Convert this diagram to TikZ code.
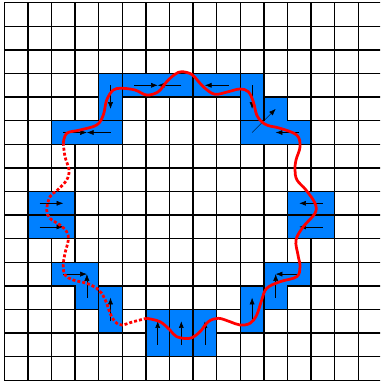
\documentclass[tikz,border=0pt]{standalone}
\usetikzlibrary{arrows.meta}
\definecolor{cellblue}{RGB}{0,128,255}
\begin{document}
\begin{tikzpicture}[x=1.2pt,y=-1.2pt,
 gridline/.style={line width=1.6pt,black},
 blockline/.style={draw=black,line width=1.6pt},
 flow/.style={line width=0.6pt,-{Latex[length=8pt,width=6pt]}},
 curve/.style={red,line width=3.3pt,line join=round},
 dotcurve/.style={red,line width=3.3pt,dash pattern=on 3.6pt off 2.4pt}]
\useasboundingbox (0,0) rectangle (380,381);
\clip (0,0) rectangle (380,381);
\fill[white] (0,0) rectangle (380,381);
\begin{scope}[shift={(4.3,2.7)},x=28.32pt,y=-28.32pt]
 \foreach \i in {0,...,16} {
   \draw[gridline] (\i,0) -- (\i,16);
   \draw[gridline] (0,\i) -- (16,\i);
 }
 \foreach \ci/\ri in {4/3,5/3,6/3,7/3,8/3,9/3,10/3,
   4/4,10/4,11/4,
   2/5,3/5,4/5,10/5,11/5,12/5,
   1/8,2/8,12/8,13/8,1/9,2/9,12/9,13/9,
   2/11,3/11,11/11,12/11,
   3/12,4/12,10/12,11/12,
   4/13,6/13,7/13,8/13,10/13,
   6/14,7/14,8/14}
   \fill[cellblue] (\ci,\ri) rectangle ++(1,1);
 % outlines of blocks
 \draw[blockline] (4,3) rectangle (5,5);
 \draw[blockline] (2,5) rectangle (5,6);
 \draw[blockline] (5,3) rectangle (8,4);
 \draw[blockline] (8,3) rectangle (10,4);
 \draw[blockline] (10,3) rectangle (11,5);
 \draw[blockline] (10,5) -- (11,5) -- (11,4) -- (12,4) -- (12,5) -- (13,5) -- (13,6) -- (10,6) -- cycle;
 \draw[blockline] (1,8) rectangle (3,9);
 \draw[blockline] (1,9) rectangle (3,10);
 \draw[blockline] (12,8) rectangle (14,9);
 \draw[blockline] (12,9) rectangle (14,10);
 \draw[blockline] (2,11) -- (4,11) -- (4,13) -- (3,13) -- (3,12) -- (2,12) -- cycle;
 \draw[blockline] (4,12) rectangle (5,14);
 \draw[blockline] (6,13) rectangle (7,15);
 \draw[blockline] (7,13) rectangle (8,15);
 \draw[blockline] (8,13) rectangle (9,15);
 \draw[blockline] (10,12) rectangle (11,14);
 \draw[blockline] (11,11) -- (13,11) -- (13,12) -- (12,12) -- (12,13) -- (11,13) -- cycle;
 % flow arrows between cell centres
 \foreach \a/\b/\c/\d in {5/3/6/3,7/3/6/3,9/3/8/3,
   4/3/4/4,10/3/10/4,
   2/5/3/5,4/5/3/5,12/5/11/5,10/5/11/4,
   1/8/2/8,1/9/2/9,13/8/12/8,13/9/12/9,
   2/11/3/11,12/11/11/11,3/12/3/11,11/12/11/11,
   4/13/4/12,10/13/10/12,
   6/14/6/13,7/14/7/13,8/14/8/13}
   \draw[flow] (\a+0.5,\b+0.5) -- (\c+0.5,\d+0.5);
\end{scope}
% red boundary curve (pixel coordinates)
\draw[curve] plot[smooth,tension=0.6] coordinates {
 (63.3,143.3) (66.7,133.3) (80,130) (96.7,125) (103.3,115) (106.7,100) (113.3,90)
 (121.7,88.3) (135,90) (146.7,95) (158.3,91.7) (166.7,81.7) (175,74.3) (181.7,71.7)
 (191.7,74.3) (198,81) (205,88.3) (215,94.3) (228.3,91.7) (240,89) (248.3,91.7)
 (253.3,101.7) (256.7,115) (261.7,121.7) (268,125.5) (280,128.3) (296.7,135)
 (300,146.7) (296,160) (295,170) (297,180) (306,190) (315,203.3) (315,213.3)
 (303.3,226.7) (296,240) (298,255) (300,266.7) (296.7,276.7) (280,281.7)
 (266.7,288.3) (261.7,300) (256.7,315) (250,323.3) (240,325) (230,321.7)
 (218.3,318.3) (208.3,321.7) (200,331.7) (190,338.3) (176.7,336.7) (170,330)
 (160,321.7) (146.7,318.3)};
\draw[dotcurve] plot[smooth,tension=0.6] coordinates {
 (146.7,318.3) (133.3,321.7) (121.7,325) (115,321.7) (110,313.3) (106.7,303.3)
 (101.7,293.3) (96.7,288.3) (86.7,283.3) (73.3,280) (65,275) (63.3,265) (65,253.3)
 (68.3,240) (66.7,231.7) (60,225) (50,218.3) (46.7,210) (50,196.7) (57.5,190)
 (66.7,180) (69,170) (65,156.7) (63.3,143.3)};
\end{tikzpicture}
\end{document}
